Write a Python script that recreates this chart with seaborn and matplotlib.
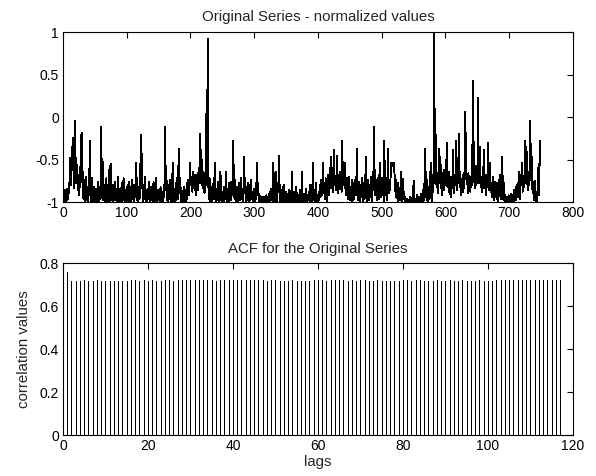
import numpy as np
import pandas as pd
import matplotlib
matplotlib.use("Agg")
import matplotlib.pyplot as plt
import seaborn as sns

# ---- data ----
series_values = [
    # 1-50
    -0.95,-1.00,-0.86,-1.00,-0.92,-0.98,-0.84,-0.96,-0.78,-0.90,
    -0.48,-0.70,-0.80,-0.35,-0.62,-0.25,-0.72,-0.84,-0.05,-0.66,
    -0.78,-0.56,-0.86,-0.70,-0.92,-0.62,-0.82,-0.21,-0.76,-0.19,
    -0.86,-0.96,-0.74,-1.00,-0.84,-0.70,-0.98,-0.88,-1.00,-0.80,
    -0.92,-0.28,-0.86,-1.00,-0.72,-0.94,-1.00,-0.82,-0.96,-0.90,
    # 51-100
    -1.00,-0.84,-0.94,-1.00,-0.76,-0.92,-1.00,-0.82,-0.96,-0.12,
    -0.90,-0.50,-0.98,-0.80,-0.94,-1.00,-0.86,-0.72,-0.96,-1.00,
    -0.84,-0.94,-0.57,-1.00,-0.55,-0.90,-0.98,-0.80,-1.00,-0.92,
    -0.76,-0.98,-0.86,-1.00,-0.94,-0.70,-1.00,-0.88,-1.00,-0.84,
    -0.96,-0.78,-1.00,-0.90,-0.72,-0.98,-0.86,-1.00,-0.94,-0.82,
    # 101-150
    -1.00,-0.88,-0.76,-1.00,-0.92,-0.82,-1.00,-0.74,-0.96,-0.88,
    -1.00,-0.80,-0.94,-0.86,-0.54,-0.98,-0.90,-1.00,-0.82,-0.96,
    -0.88,-0.21,-0.84,-0.43,-0.94,-1.00,-0.80,-0.96,-0.70,-1.00,
    -0.88,-1.00,-0.84,-0.96,-0.76,-1.00,-0.92,-0.82,-0.98,-0.88,
    -1.00,-0.76,-0.94,-0.84,-1.00,-0.72,-0.96,-1.00,-0.86,-0.98,
    # 151-200
    -0.92,-1.00,-0.82,-0.96,-1.00,-0.88,-1.00,-0.80,-0.94,-0.12,
    -0.86,-0.57,-0.98,-0.90,-1.00,-0.80,-0.96,-0.74,-1.00,-0.88,
    -0.94,-0.54,-1.00,-0.84,-1.00,-0.92,-0.78,-0.98,-0.88,-0.57,
    -0.96,-0.38,-0.90,-0.72,-1.00,-0.86,-0.98,-1.00,-0.92,-0.82,
    -1.00,-0.88,-1.00,-0.78,-0.96,-0.74,-0.92,-0.84,-0.54,-0.70,
    # 201-250
    -0.80,-0.70,-0.88,-0.64,-0.78,-0.84,-0.68,-0.92,-0.72,-0.82,
    -0.66,-0.86,-0.74,-0.62,-0.20,-0.78,-0.39,-0.70,-0.84,-0.64,
    -0.74,-0.90,-0.66,-0.80,0.04,-0.56,0.92,-0.80,-0.96,-0.72,
    -1.00,-0.88,-0.82,-1.00,-0.92,-0.78,-0.96,-0.54,-0.90,-1.00,
    -0.84,-0.98,-0.76,-0.94,-1.00,-0.86,-0.64,-0.96,-1.00,-0.88,
    # 251-300
    -0.94,-1.00,-0.82,-0.96,-0.88,-0.64,-1.00,-0.86,-0.94,-0.78,
    -1.00,-0.90,-0.76,-0.98,-0.84,-0.92,-0.28,-0.80,-0.96,-0.74,
    -0.88,-1.00,-0.82,-0.94,-1.00,-0.78,-0.92,-0.98,-0.72,-0.88,
    -0.96,-0.84,-1.00,-0.47,-0.90,-0.72,-1.00,-0.86,-0.94,-0.78,
    -1.00,-0.92,-0.80,-0.98,-0.74,-0.96,-0.88,-1.00,-0.84,-0.94,
    # 301-350
    -1.00,-0.86,-0.96,-0.54,-0.92,-0.78,-1.00,-0.90,-0.98,-1.00,
    -1.00,-0.94,-1.00,-0.98,-0.94,-1.00,-0.96,-1.00,-0.92,-1.00,
    -1.00,-0.94,-0.98,-0.88,-1.00,-0.96,-0.84,-0.94,-1.00,-0.54,
    -0.96,-0.80,-1.00,-0.64,-0.92,-1.00,-0.78,-0.88,-0.46,-0.94,
    -1.00,-0.86,-0.98,-1.00,-0.90,-0.80,-1.00,-0.96,-1.00,-0.88,
    # 351-400
    -1.00,-0.94,-0.98,-0.86,-1.00,-1.00,-0.92,-1.00,-0.64,-0.96,
    -1.00,-0.88,-0.98,-1.00,-0.94,-0.82,-1.00,-0.96,-1.00,-0.92,
    -1.00,-0.86,-1.00,-0.94,-0.64,-0.98,-1.00,-0.90,-1.00,-0.96,
    -0.84,-1.00,-1.00,-0.92,-0.98,-0.88,-1.00,-0.80,-0.96,-1.00,
    -0.90,-0.54,-0.98,-0.86,-1.00,-0.94,-0.78,-1.00,-0.92,-1.00,
    # 401-450
    -0.88,-0.98,-0.80,-0.94,-0.74,-0.92,-0.84,-0.54,-0.90,-0.78,
    -0.96,-0.72,-0.86,-1.00,-0.78,-0.68,-0.92,-0.82,-0.74,-0.47,
    -0.84,-0.70,-0.88,-0.66,-0.39,-0.80,-0.72,-0.86,-0.68,-0.46,
    -0.78,-0.90,-0.70,-0.82,-0.64,-0.76,-0.88,-0.28,-0.74,-0.80,
    -0.68,-0.54,-0.84,-0.92,-0.72,-0.78,-0.96,-0.70,-0.86,-0.98,
    # 451-500
    -0.82,-0.94,-0.74,-1.00,-0.88,-0.78,-0.96,-0.84,-0.70,-0.92,
    -0.38,-0.86,-0.98,-0.76,-0.90,-1.00,-0.80,-0.94,-0.72,-1.00,
    -0.88,-0.78,-0.96,-0.84,-0.47,-0.92,-1.00,-0.74,-0.88,-0.98,
    -0.80,-0.94,-0.70,-0.86,-1.00,-0.76,-0.64,-0.12,-0.82,-0.92,
    -0.74,-0.98,-0.84,-0.90,-0.68,-0.96,-0.54,-0.80,-0.94,-0.72,
    # 501-550
    -0.88,-0.78,-1.00,-0.28,-0.84,-0.92,-0.72,-0.98,-0.80,-0.38,
    -0.90,-0.74,-0.86,-0.68,-0.54,-0.58,-0.54,-0.56,-0.54,-0.66,
    -0.82,-0.94,-0.74,-0.88,-1.00,-0.78,-0.92,-0.84,-0.98,-0.64,
    -0.90,-1.00,-0.73,-0.96,-0.88,-1.00,-0.94,-1.00,-1.00,-0.96,
    -1.00,-1.00,-0.98,-1.00,-0.94,-1.00,-0.98,-1.00,-0.96,-0.75,
    # 551-600
    -1.00,-1.00,-0.96,-1.00,-0.92,-1.00,-0.98,-1.00,-0.94,-1.00,
    -1.00,-0.90,-1.00,-1.00,-0.86,-0.98,-0.78,-0.38,-0.94,-0.64,
    -0.98,-0.88,-1.00,-0.82,-0.96,-0.70,-0.54,-0.92,-1.00,-0.78,
    -0.88,1.00,-0.78,0.10,-0.66,-0.82,-0.72,-0.90,-0.64,-0.38,
    -0.78,-0.47,-0.84,-0.70,-0.92,-0.76,-0.62,-0.86,-0.74,-0.80,
    # 601-650
    -0.68,-0.31,-0.82,-0.72,-0.88,-0.64,-0.78,-0.94,-0.70,-0.84,
    -0.76,-0.39,-0.90,-0.68,-0.80,-0.74,-0.28,-0.86,-0.70,-0.78,
    -0.20,-0.82,-0.64,-0.92,-0.74,-0.80,-0.68,-0.88,-0.76,-0.62,
    0.06,-0.47,-0.78,-0.72,-0.90,-0.66,-0.82,-0.74,-0.88,-0.70,
    -0.80,-0.62,0.42,-0.28,-0.76,-0.68,-0.84,-0.58,-0.78,-0.72,
    # 651-700
    0.23,-0.78,-0.66,-0.35,-0.82,-0.70,-0.88,-0.74,-0.80,-0.39,
    -0.84,-0.68,-0.92,-0.76,-0.82,-0.64,-0.30,-0.86,-0.72,-0.54,
    -0.88,-0.78,-0.94,-0.70,-0.84,-0.98,-0.76,-0.90,-0.82,-0.96,
    -0.78,-0.92,-1.00,-0.74,-0.88,-0.68,-0.96,-0.84,-0.47,-0.90,
    -0.98,-0.78,-1.00,-0.92,-1.00,-1.00,-0.94,-1.00,-0.92,-1.00,
    # 701-748
    -0.98,-1.00,-0.90,-1.00,-0.96,-1.00,-0.86,-1.00,-0.94,-0.82,
    -0.98,-0.88,-0.78,-0.94,-0.64,-0.84,-0.96,-0.68,-0.80,-0.54,
    -0.88,-0.74,-0.82,-0.66,-0.28,-0.78,-0.35,-0.70,-0.86,-0.64,
    -0.80,-0.74,-0.04,-0.68,-0.47,-0.82,-0.90,-0.76,-0.98,-0.75,
    -0.94,-1.00,-0.88,-1.00,-0.78,-0.55,-0.92,-0.28,
]

acf_values = [
    0.760, 0.716, 0.717, 0.716, 0.720, 0.718, 0.717, 0.720, 0.718, 0.716,
    0.717, 0.716, 0.716, 0.717, 0.716, 0.721, 0.720, 0.716, 0.719, 0.717,
    0.720, 0.718, 0.716, 0.719, 0.720, 0.716, 0.721, 0.721, 0.720, 0.721,
    0.721, 0.721, 0.720, 0.721, 0.721, 0.718, 0.721, 0.720, 0.721, 0.721,
    0.721, 0.721, 0.720, 0.721, 0.721, 0.721, 0.720, 0.718, 0.721, 0.720,
    0.718, 0.716, 0.717, 0.720, 0.718, 0.716, 0.718, 0.717, 0.720, 0.720,
    0.721, 0.718, 0.720, 0.721, 0.721, 0.721, 0.718, 0.720, 0.716, 0.721,
    0.720, 0.718, 0.717, 0.720, 0.717, 0.716, 0.718, 0.716, 0.718, 0.721,
    0.720, 0.716, 0.721, 0.720, 0.718, 0.716, 0.717, 0.720, 0.716, 0.718,
    0.720, 0.716, 0.718, 0.720, 0.716, 0.718, 0.716, 0.720, 0.718, 0.716,
    0.717, 0.720, 0.721, 0.721, 0.721, 0.721, 0.720, 0.721, 0.721, 0.720,
    0.721, 0.721, 0.721, 0.720, 0.720, 0.721, 0.720,
]

top_xticks = [0, 100, 200, 300, 400, 500, 600, 700, 800]
top_yticks = [-1, -0.5, 0, 0.5, 1]
top_yticklabels = ["-1", "-0.5", "0", "0.5", "1"]
bot_xticks = [0, 20, 40, 60, 80, 100, 120]
bot_yticks = [0, 0.2, 0.4, 0.6, 0.8]
bot_yticklabels = ["0", "0.2", "0.4", "0.6", "0.8"]

# ---- styling ----
sns.set_style("white")
plt.rcParams["font.family"] = ["Liberation Sans", "DejaVu Sans"]
plt.rcParams["axes.unicode_minus"] = False
FS = 10
TFS = 10.8

df_series = pd.DataFrame({"t": np.arange(1, len(series_values) + 1), "v": series_values})
lags = np.arange(1, len(acf_values) + 1)

fig = plt.figure(figsize=(5.96, 4.76), dpi=100)
fig.patch.set_facecolor("white")
ax1 = fig.add_axes([0.1057, 0.5756, 0.8557, 0.3571])
ax2 = fig.add_axes([0.1057, 0.0861, 0.8557, 0.3613])

sns.lineplot(data=df_series, x="t", y="v", ax=ax1, color="black",
             linewidth=0.65, antialiased=False)
ax1.set_xlim(0, 800)
ax1.set_ylim(-1, 1)
ax1.set_xticks(top_xticks)
ax1.set_xticklabels([str(t) for t in top_xticks])
ax1.set_yticks(top_yticks)
ax1.set_yticklabels(top_yticklabels)
ax1.set_xlabel("")
ax1.set_ylabel("")
ax1.set_title("Original Series - normalized values", fontsize=TFS, pad=8)

ax2.vlines(lags, 0, acf_values, color="black", linewidth=0.6, antialiased=False)
ax2.set_xlim(0, 120)
ax2.set_ylim(0, 0.8)
ax2.set_xticks(bot_xticks)
ax2.set_yticks(bot_yticks)
ax2.set_yticklabels(bot_yticklabels)
ax2.set_title("ACF for the Original Series", fontsize=TFS, pad=7)
ax2.set_xlabel("lags", fontsize=TFS, labelpad=1)
ax2.set_ylabel("correlation values", fontsize=TFS, labelpad=6)

for ax in (ax1, ax2):
    for s in ax.spines.values():
        s.set_visible(True)
        s.set_color("black")
        s.set_linewidth(0.8)
    ax.tick_params(direction="in", length=4, width=0.8, top=True, right=True,
                   labelsize=FS, colors="black", pad=3)
    ax.set_facecolor("white")

fig.savefig("out.png", dpi=100, facecolor="white")
